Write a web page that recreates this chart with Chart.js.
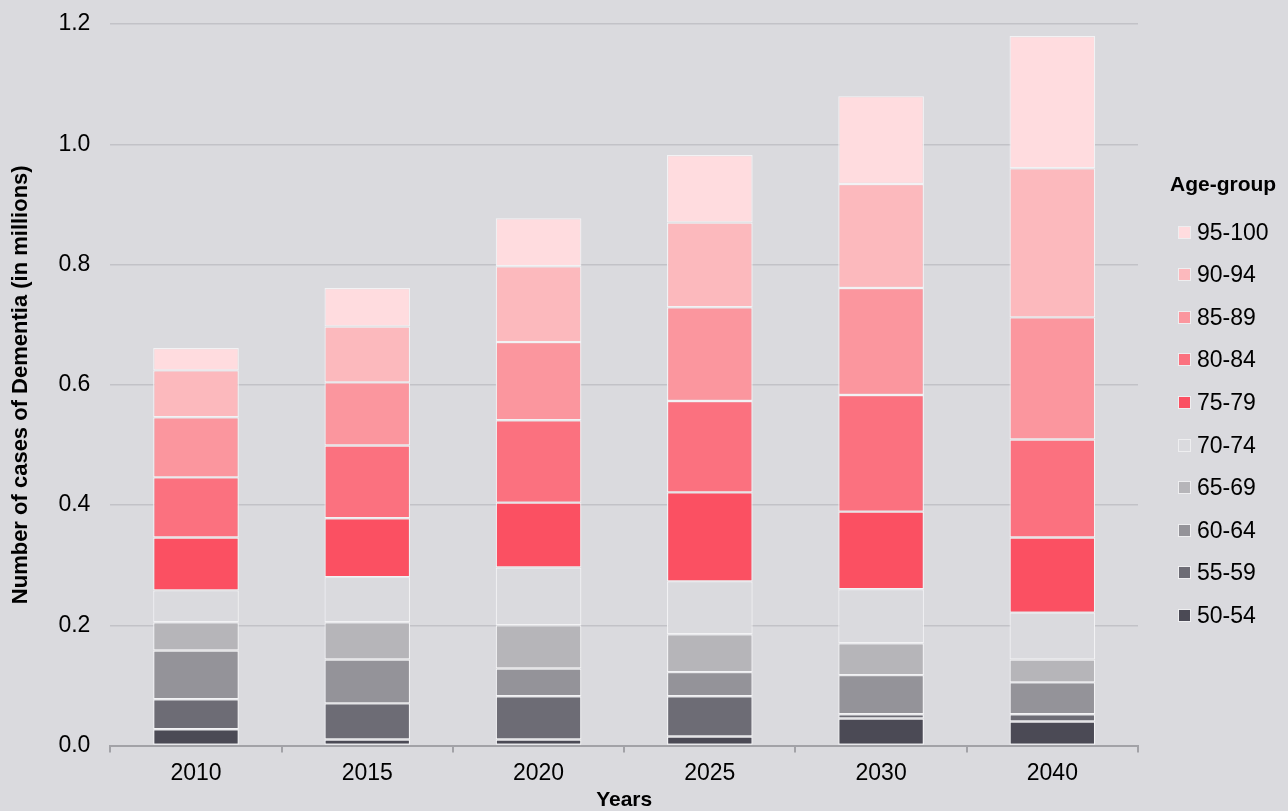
<!DOCTYPE html>
<html>
<head>
<meta charset="utf-8">
<title>Dementia cases by age group</title>
<script src="https://cdn.jsdelivr.net/npm/chart.js@4/dist/chart.umd.min.js"></script>
<style>
	html, body { margin: 0; padding: 0; background: #dadade; }
	#wrap { position: relative; width: 1288px; height: 811px; }
	#legend {
		position: absolute; left: 1170px; top: 171px;
		font-family: "Liberation Sans", Arial, sans-serif; color: #000;
	}
	#legend .title { font-weight: bold; font-size: 21px; line-height: 26px; margin-bottom: 14px; }
	#legend ul { list-style: none; margin: 0; padding: 0 0 0 8px; }
	#legend li { display: flex; align-items: center; height: 42.55px; font-size: 23px; }
	#legend li span.box { width: 11px; height: 11px; border: 1px solid #eeeef0; margin-right: 6px; }
</style>
</head>
<body>
<div id="wrap">
	<canvas id="dementia-chart" width="1288" height="811"></canvas>
	<div id="legend"></div>
</div>
<script>
const years = ['2010', '2015', '2020', '2025', '2030', '2040'];

// cases in millions per age group
const age5054 = [0.027, 0.010, 0.010, 0.015, 0.045, 0.040];
const age5559 = [0.050, 0.060, 0.072, 0.067, 0.007, 0.012];
const age6064 = [0.081, 0.073, 0.046, 0.040, 0.065, 0.053];
const age6569 = [0.047, 0.062, 0.072, 0.063, 0.053, 0.038];
const age7074 = [0.053, 0.075, 0.096, 0.088, 0.090, 0.078];
const age7579 = [0.088, 0.098, 0.108, 0.148, 0.129, 0.125];
const age8084 = [0.100, 0.121, 0.137, 0.152, 0.194, 0.163];
const age8589 = [0.100, 0.105, 0.130, 0.156, 0.178, 0.203];
const age9094 = [0.078, 0.093, 0.126, 0.141, 0.173, 0.248];
const age95100 = [0.037, 0.064, 0.080, 0.112, 0.146, 0.220];

const groupLabels = ['50-54', '55-59', '60-64', '65-69', '70-74', '75-79', '80-84', '85-89', '90-94', '95-100'];
const groupValues = [age5054, age5559, age6064, age6569, age7074, age7579, age8084, age8589, age9094, age95100];
const groupColors = ['#4b4a55', '#6d6c75', '#949399', '#b6b5b9', '#dadade',
	'#fb5062', '#fb717f', '#fb969e', '#fcb9bd', '#ffdcdf'];

const yTicks = [0, 0.2, 0.4, 0.6, 0.8, 1.0, 1.2];

const FONT = '"Liberation Sans", Arial, sans-serif';

const datasets = groupLabels.map((label, i) => ({
	label: label,
	data: groupValues[i],
	backgroundColor: groupColors[i],
	borderColor: '#f2f2f4',
	borderWidth: 1.2,
	borderSkipped: false
}));

// legend built from the chart's own items, newest group on top
const htmlLegend = {
	id: 'htmlLegend',
	afterUpdate(chart) {
		const el = document.getElementById('legend');
		el.innerHTML = '';
		const title = document.createElement('div');
		title.className = 'title';
		title.textContent = 'Age-group';
		el.appendChild(title);
		const ul = document.createElement('ul');
		const items = chart.options.plugins.legend.labels.generateLabels(chart).reverse();
		items.forEach(item => {
			const li = document.createElement('li');
			const box = document.createElement('span');
			box.className = 'box';
			box.style.background = item.fillStyle;
			li.appendChild(box);
			li.appendChild(document.createTextNode(item.text));
			ul.appendChild(li);
		});
		el.appendChild(ul);
	}
};

const ctx = document.getElementById('dementia-chart').getContext('2d');
const chart = new Chart(ctx, {
	type: 'bar',
	data: { labels: years, datasets: datasets },
	plugins: [htmlLegend],
	options: {
		responsive: false,
		animation: false,
		layout: { padding: { left: 4, right: 150, top: 2, bottom: 0 } },
		plugins: {
			legend: { display: false },
			tooltip: { enabled: false }
		},
		datasets: {
			bar: { barPercentage: 0.5, categoryPercentage: 1.0 }
		},
		scales: {
			x: {
				stacked: true,
				offset: true,
				grid: {
					display: true,
					offset: true,
					drawOnChartArea: false,
					drawTicks: true,
					tickLength: 7,
					color: '#a2a2a7',
					lineWidth: 2
				},
				border: { display: true, color: '#a2a2a7', width: 2 },
				ticks: {
					color: '#000',
					padding: 9.5,
					font: { family: FONT, size: 23, lineHeight: 1.0 }
				},
				title: {
					display: true,
					text: 'Years',
					color: '#000',
					padding: { top: -5, bottom: 0.5 },
					font: { family: FONT, size: 21, weight: 'bold', lineHeight: 1.0 }
				}
			},
			y: {
				stacked: true,
				min: 0,
				max: 1.2,
				afterBuildTicks: scale => {
					scale.ticks = yTicks.map(v => ({ value: v }));
				},
				grid: {
					color: '#c2c2c7',
					lineWidth: 1.5,
					drawTicks: false
				},
				border: { display: false },
				ticks: {
					color: '#000',
					padding: 20,
					// small line height keeps the top label from pushing the plot down
					font: { family: FONT, size: 23, lineHeight: 0.35 },
					callback: v => v.toFixed(1)
				},
				title: {
					display: true,
					text: 'Number of cases of Dementia (in millions)',
					color: '#000',
					padding: { top: 4, bottom: 4 },
					font: { family: FONT, size: 22, weight: 'bold' }
				}
			}
		}
	}
});
</script>
</body>
</html>
